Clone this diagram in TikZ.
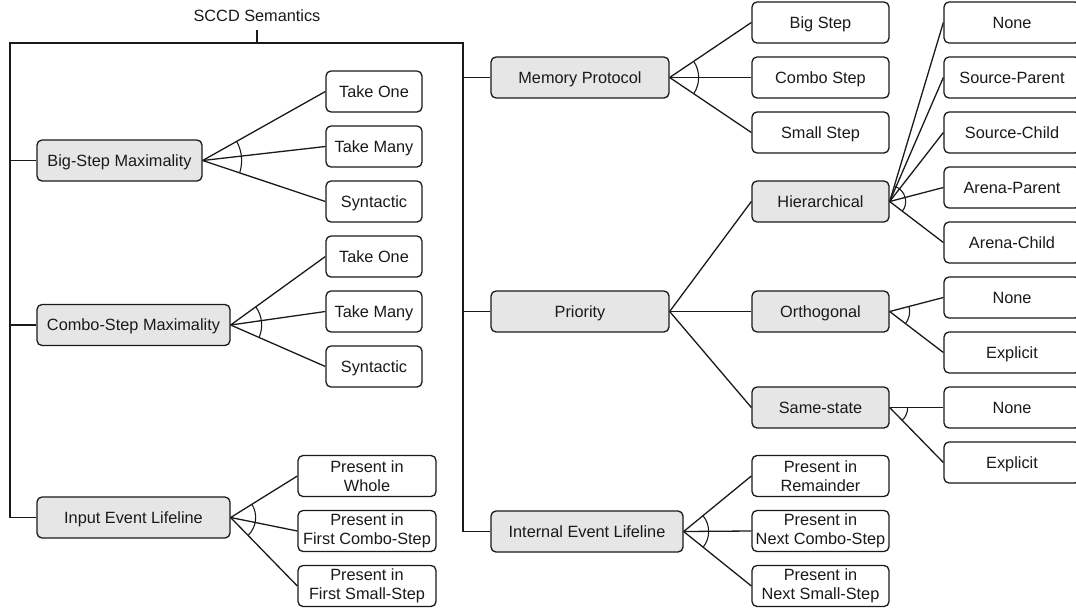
\documentclass[tikz,border=0pt]{standalone}
\usepackage{fontspec}
\setmainfont{Liberation Sans}
\usetikzlibrary{calc}
\definecolor{boxgray}{RGB}{230,230,230}
\definecolor{ink}{RGB}{26,26,26}
\tikzset{
  base/.style={draw=ink, line width=1.3pt, rounded corners=5pt, inner sep=0pt,
    minimum height=41pt, align=center, text=ink,
    font=\fontsize{16.3}{19.5}\selectfont},
  oneline/.style={text height=11.7pt, text depth=0pt},
  cat/.style={base, oneline, fill=boxgray},
  opt/.style={base, oneline, fill=white},
  opttwo/.style={base, fill=white},
  conn/.style={draw=ink, line width=1.3pt},
  fan/.style={draw=ink, line width=1.1pt}
}
\newcommand\fanarc[4]{%
  \draw[fan] let \p1=(#1.east), \p2=(#2.west), \p3=(#3.west),
    \n1={atan2(\y2-\y1,\x2-\x1)}, \n2={atan2(\y3-\y1,\x3-\x1)} in
    ($(\p1)+(\n1:#4)$) arc[start angle=\n1, end angle=\n2, radius=#4];}
\begin{document}
\begin{tikzpicture}[x=1pt,y=-1pt]
\clip (0,0) rectangle (1076,611);
\fill[white] (0,0) rectangle (1076,611);

% title
\node[text=ink, font=\fontsize{16.3}{19.5}\selectfont] (title) at (257,16) {SCCD Semantics};
\coordinate (tick) at (257,30);
\coordinate (tl) at (10,43);
\coordinate (tr) at (463,43);

% left categories
\node[cat, minimum width=165pt] (bsm) at (119.5,160.5) {Big-Step Maximality};
\node[cat, minimum width=193pt] (csm) at (133.5,325) {Combo-Step Maximality};
\node[cat, minimum width=193pt] (iel) at (133.5,517.5) {Input Event Lifeline};

\node[opt, minimum width=96pt] (b1) at (374,91.5) {Take One};
\node[opt, minimum width=96pt] (b2) at (374,146.5) {Take Many};
\node[opt, minimum width=96pt] (b3) at (374,201.5) {Syntactic};

\node[opt, minimum width=96pt] (c1) at (374,256.5) {Take One};
\node[opt, minimum width=96pt] (c2) at (374,311.5) {Take Many};
\node[opt, minimum width=96pt] (c3) at (374,366.5) {Syntactic};

\node[opttwo, minimum width=138pt] (i1) at (367,476) {Present in\\Whole};
\node[opttwo, minimum width=138pt] (i2) at (367,531) {Present in\\First Combo-Step};
\node[opttwo, minimum width=138pt] (i3) at (367,586) {Present in\\First Small-Step};

% right categories
\node[cat, minimum width=178pt] (mp) at (580,77.5) {Memory Protocol};
\node[cat, minimum width=178pt] (pr) at (580,311.5) {Priority};
\node[cat, minimum width=192pt] (ie) at (587,531.5) {Internal Event Lifeline};

\node[opt, minimum width=137pt] (m1) at (820.5,22.5) {Big Step};
\node[opt, minimum width=137pt] (m2) at (820.5,77.5) {Combo Step};
\node[opt, minimum width=137pt] (m3) at (820.5,132.5) {Small Step};

\node[cat, minimum width=137pt] (hi) at (820.5,201.5) {Hierarchical};
\node[cat, minimum width=137pt] (or) at (820.5,311.5) {Orthogonal};
\node[cat, minimum width=137pt] (ss) at (820.5,407.5) {Same-state};

\node[opttwo, minimum width=137pt] (e1) at (820.5,476) {Present in\\Remainder};
\node[opttwo, minimum width=137pt] (e2) at (820.5,531) {Present in\\Next Combo-Step};
\node[opttwo, minimum width=137pt] (e3) at (820.5,586) {Present in\\Next Small-Step};

\node[opt, minimum width=136pt] (h1) at (1012,22.5) {None};
\node[opt, minimum width=136pt] (h2) at (1012,77.5) {Source-Parent};
\node[opt, minimum width=136pt] (h3) at (1012,132.5) {Source-Child};
\node[opt, minimum width=136pt] (h4) at (1012,187.5) {Arena-Parent};
\node[opt, minimum width=136pt] (h5) at (1012,242.5) {Arena-Child};

\node[opt, minimum width=136pt] (o1) at (1012,297.5) {None};
\node[opt, minimum width=136pt] (o2) at (1012,352.5) {Explicit};
\node[opt, minimum width=136pt] (s1) at (1012,407.5) {None};
\node[opt, minimum width=136pt] (s2) at (1012,462.5) {Explicit};

% frame
\draw[conn] (tick) -- (tick |- tl);
\draw[conn] (iel.west) -- (iel.west -| tl) -- (tl) -- (tr) -- (tr |- ie.west) -- (ie.west);
\draw[conn] (bsm.west) -- (bsm.west -| tl);
\draw[conn] (csm.west) -- (csm.west -| tl);
\draw[conn] (mp.west) -- (mp.west -| tr);
\draw[conn] (pr.west) -- (pr.west -| tr);

% fans
\foreach \p/\c in {bsm/b1,bsm/b2,bsm/b3,csm/c1,csm/c2,csm/c3,iel/i1,iel/i2,iel/i3,
  mp/m1,mp/m2,mp/m3,pr/hi,pr/or,pr/ss,ie/e1,ie/e2,ie/e3,
  hi/h1,hi/h2,hi/h3,hi/h4,hi/h5,or/o1,or/o2,ss/s1,ss/s2}
  \draw[conn] (\p.east) -- (\c.west);

\fanarc{bsm}{b1}{b3}{39pt}
\fanarc{csm}{c1}{c3}{31pt}
\fanarc{iel}{i1}{i3}{25pt}
\fanarc{mp}{m1}{m3}{29pt}
\fanarc{ie}{e1}{e3}{25pt}
\fanarc{hi}{h1}{h5}{16pt}
\fanarc{or}{o1}{o2}{20pt}
\fanarc{ss}{s1}{s2}{18pt}
\end{tikzpicture}
\end{document}
